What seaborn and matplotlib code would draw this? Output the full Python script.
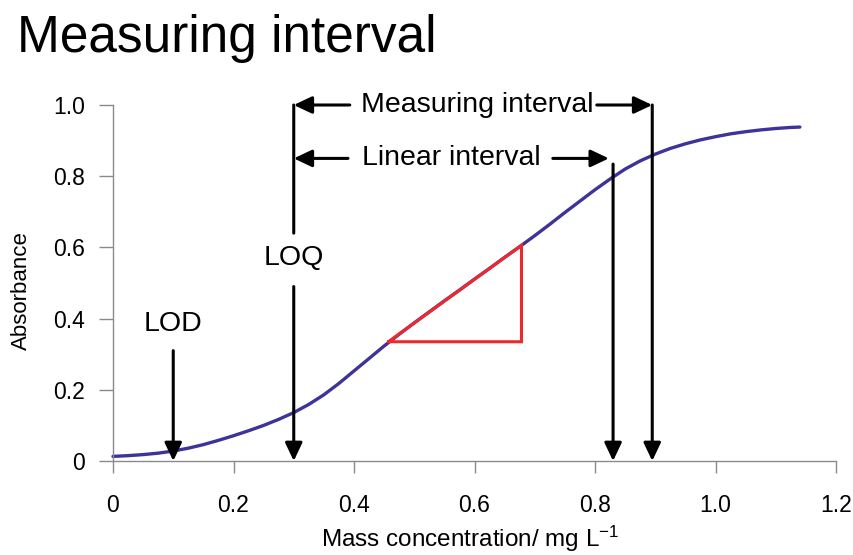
import matplotlib
matplotlib.use("Agg")
import matplotlib.pyplot as plt
import seaborn as sns
import pandas as pd

# Calibration curve: absorbance vs mass concentration
concentration = [0.000, 0.025, 0.050, 0.075, 0.100, 0.125, 0.150, 0.175, 0.200, 0.225,
                 0.250, 0.275, 0.300, 0.325, 0.350, 0.375, 0.400, 0.425, 0.450, 0.475,
                 0.500, 0.525, 0.550, 0.575, 0.600, 0.625, 0.650, 0.675, 0.700, 0.725,
                 0.750, 0.775, 0.800, 0.825, 0.850, 0.875, 0.900, 0.925, 0.950, 0.975,
                 1.000, 1.025, 1.050, 1.075, 1.100, 1.125, 1.140]
absorbance = [0.013, 0.015, 0.018, 0.022, 0.028, 0.036, 0.046, 0.058, 0.071, 0.085,
              0.100, 0.117, 0.136, 0.159, 0.186, 0.218, 0.253, 0.288, 0.323, 0.356,
              0.388, 0.419, 0.450, 0.480, 0.511, 0.541, 0.572, 0.602, 0.633, 0.665,
              0.698, 0.730, 0.762, 0.792, 0.820, 0.843, 0.862, 0.878, 0.891, 0.902,
              0.911, 0.919, 0.925, 0.930, 0.934, 0.937, 0.938]

# Slope triangle on the linear part of the curve
slope_x = [0.457, 0.678]
slope_y = [0.335, 0.606]

# Key concentrations
lod = 0.10
loq = 0.30
linear_end = 0.83
measuring_end = 0.895

x_ticks = [0.0, 0.2, 0.4, 0.6, 0.8, 1.0, 1.2]
x_tick_labels = ["0", "0.2", "0.4", "0.6", "0.8", "1.0", "1.2"]
y_ticks = [0.0, 0.2, 0.4, 0.6, 0.8, 1.0]
y_tick_labels = ["0", "0.2", "0.4", "0.6", "0.8", "1.0"]

sns.set_theme(style="ticks")
plt.rcParams["font.family"] = ["Liberation Sans", "DejaVu Sans"]
plt.rcParams["mathtext.fontset"] = "custom"
plt.rcParams["mathtext.rm"] = "Liberation Sans"
plt.rcParams["mathtext.it"] = "Liberation Sans:italic"
plt.rcParams["text.color"] = "black"
plt.rcParams["axes.labelcolor"] = "black"

fig = plt.figure(figsize=(8.54, 5.55), dpi=100)
ax = fig.add_axes([113 / 854, 1 - 461 / 555, 723 / 854, 356 / 555])

df = pd.DataFrame({"conc": concentration, "abs": absorbance})
sns.lineplot(data=df, x="conc", y="abs", ax=ax, color="#3d3399", lw=2.4,
             solid_joinstyle="round", solid_capstyle="round", clip_on=False)

# Red slope triangle
tri_x = [slope_x[0], slope_x[1], slope_x[1], slope_x[0]]
tri_y = [slope_y[0], slope_y[1], slope_y[0], slope_y[0]]
ax.plot(tri_x, tri_y, color="#ec2a2e", lw=2.2, solid_joinstyle="miter")

ax.set_xlim(0, 1.2)
ax.set_ylim(0, 1.0)
ax.set_xticks(x_ticks)
ax.set_xticklabels(x_tick_labels)
ax.set_yticks(y_ticks)
ax.set_yticklabels(y_tick_labels)

grey = "#8a8a8a"
for side in ["top", "right"]:
    ax.spines[side].set_visible(False)
for side in ["left", "bottom"]:
    ax.spines[side].set_color(grey)
    ax.spines[side].set_linewidth(1.0)
ax.tick_params(axis="y", length=10, width=1, color=grey, pad=10, labelsize=16.5, labelcolor="black")
ax.tick_params(axis="x", length=8.5, width=1, color=grey, pad=15, labelsize=16.5, labelcolor="black")

ax.set_xlabel("Mass concentration/ mg L$^{-1}$", fontsize=17.5)
ax.xaxis.label.set_va("baseline")
ax.xaxis.set_label_coords(0.494, -0.24)
ax.set_ylabel("Absorbance", fontsize=16)
ax.yaxis.label.set_va("center")
ax.yaxis.set_label_coords(-0.126, 0.478)

head = "-|>,head_length=0.55,head_width=0.26"


def arrow(start, end, style=head):
    ax.annotate("", xy=end, xytext=start, annotation_clip=False,
                arrowprops=dict(arrowstyle=style, lw=2.2, color="black",
                                shrinkA=0, shrinkB=0, mutation_scale=20))


# LOD
arrow((lod, 0.31), (lod, 0.0))
ax.text(lod, 0.386, "LOD", ha="center", va="center", fontsize=20.5)

# LOQ
arrow((loq, 1.0), (loq, 0.64), style="-")
arrow((loq, 0.49), (loq, 0.0))
ax.text(loq, 0.569, "LOQ", ha="center", va="center", fontsize=20.5)

# Measuring interval
meas_y = 1.0
arrow((0.393, meas_y), (loq, meas_y))
arrow((0.803, meas_y), (measuring_end, meas_y))
arrow((measuring_end, meas_y), (measuring_end, 0.0))
ax.text(0.605, meas_y, "Measuring interval", ha="center", va="center", fontsize=20.5)

# Linear interval
lin_y = 0.85
arrow((0.39, lin_y), (loq, lin_y))
arrow((0.73, lin_y), (linear_end - 0.007, lin_y))
arrow((linear_end, 0.834), (linear_end, 0.0))
ax.text(0.561, lin_y, "Linear interval", ha="center", va="center", fontsize=20.5)

fig.text(17 / 854, 1 - 52 / 555, "Measuring interval", fontsize=37, ha="left", va="baseline")

fig.savefig("out.png", dpi=100)
